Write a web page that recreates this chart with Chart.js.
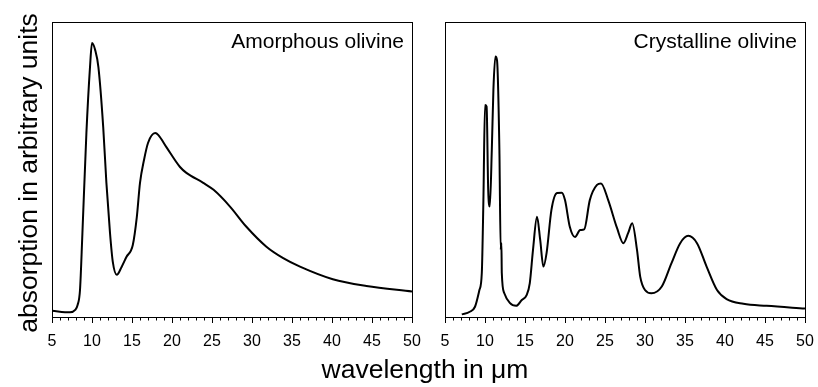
<!DOCTYPE html>
<html>
<head>
<meta charset="utf-8">
<script src="https://cdn.jsdelivr.net/npm/chart.js@4.4.1/dist/chart.umd.min.js"></script>
<style>
  body { margin: 0; background: #fff; }
  #wrap { position: relative; width: 818px; height: 387px; }
  canvas { position: absolute; left: 0; top: 0; }
</style>
</head>
<body>
<div id="wrap">
  <canvas id="amorph-canvas" width="818" height="387"></canvas>
  <canvas id="cryst-canvas" width="818" height="387"></canvas>
</div>
<script>
// ---- data (wavelength in micron, absorption in arbitrary units 0-100)
const amorphWl  = [5.0, 7.25, 7.9, 8.2, 8.5, 8.8, 9.3, 9.75, 10.0, 10.4, 10.8, 11.4, 11.8, 12.25, 12.6, 13.1, 13.7, 14.3, 15.1, 15.6, 16.0, 16.5, 17.0, 17.9, 18.3, 19.3, 21.0, 21.8, 23.9, 25.2, 27.25, 29.3, 31.8, 33.9, 36.0, 40.1, 44.3, 50.0];
const amorphAbs = [1.4, 0.9, 1.7, 3.4, 8.5, 27.8, 62.1, 84.6, 92.8, 90.4, 84.6, 64.2, 45.1, 28.0, 18.1, 13.7, 16.4, 19.8, 23.9, 33.4, 45.1, 52.9, 58.7, 62.1, 61.4, 57.3, 50.5, 48.5, 45.1, 42.7, 37.0, 30.1, 23.3, 19.4, 16.5, 12.2, 9.9, 8.0];

const crystWl  = [7.1, 8.1, 8.75, 9.3, 9.6, 9.8, 10.0, 10.2, 10.4, 10.6, 10.85, 11.05, 11.3, 11.5, 11.8, 11.96, 12.05, 12.1, 12.4, 13.1, 13.9, 14.6, 15.2, 15.6, 16.0, 16.5, 16.9, 17.3, 17.7, 18.3, 19.0, 19.6, 20.0, 20.6, 21.25, 21.9, 22.4, 23.1, 24.0, 24.5, 25.4, 26.5, 27.3, 27.9, 28.4, 29.0, 29.4, 30.0, 30.8, 32.1, 33.3, 34.4, 35.4, 36.5, 37.7, 39.0, 40.2, 42.3, 45.2, 50.0];
const crystAbs = [0.2, 1.1, 2.8, 8.5, 14.3, 39.2, 71.7, 71.1, 42.7, 37.0, 56.3, 76.8, 88.2, 87.0, 56.3, 22.2, 24.6, 14.3, 7.5, 4.1, 3.1, 5.1, 6.8, 10.9, 22.2, 33.5, 25.6, 16.5, 21.2, 35.8, 41.6, 41.7, 39.2, 30.1, 26.6, 29.0, 29.2, 39.2, 44.4, 44.9, 39.2, 29.7, 24.5, 28.0, 31.3, 22.2, 13.1, 8.5, 7.4, 9.7, 17.6, 24.5, 27.0, 24.5, 16.5, 8.5, 5.4, 3.8, 3.1, 2.2];

const panelTitles = ['Amorphous olivine', 'Crystalline olivine'];
const xTitle = 'wavelength in \u03bcm';
const yTitle = 'absorption in arbitrary units';
const xMin = 5, xMax = 50, xMajorStep = 5;

const FONT = '"Liberation Sans", Arial, Helvetica, sans-serif';

function toPoints(xs, ys) {
  return xs.map((x, i) => ({x: x, y: ys[i]}));
}

// frame box, minor ticks and the panel title
function panelPlugin(title, drawAxisTitles) {
  return {
    id: 'panelDecor',
    afterDraw(chart) {
      const ctx = chart.ctx;
      const a = chart.chartArea;
      const xs = chart.scales.x;
      ctx.save();
      ctx.strokeStyle = '#000';
      ctx.lineWidth = 1;
      ctx.strokeRect(Math.round(a.left) + 0.5, Math.round(a.top) + 0.5, Math.round(a.right - a.left), Math.round(a.bottom - a.top));
      // minor ticks every micron
      ctx.beginPath();
      for (let v = xMin; v <= xMax; v++) {
        if (v % xMajorStep === 0) continue;
        const px = Math.round(xs.getPixelForValue(v)) + 0.5;
        ctx.moveTo(px, a.bottom);
        ctx.lineTo(px, a.bottom + 3.5);
      }
      ctx.stroke();
      ctx.fillStyle = '#000';
      ctx.font = '21px ' + FONT;
      ctx.textAlign = 'right';
      ctx.textBaseline = 'alphabetic';
      ctx.fillText(title, a.right - 8, a.top + 26);
      if (drawAxisTitles) {
        ctx.font = '26.5px ' + FONT;
        ctx.textAlign = 'center';
        ctx.fillText(xTitle, 425, 378);
        ctx.translate(37, 173);
        ctx.rotate(-Math.PI / 2);
        ctx.fillText(yTitle, 0, 0);
      }
      ctx.restore();
    }
  };
}

function makePanel(canvasId, xs, ys, title, padLeft, padRight, drawAxisTitles) {
  const ctx = document.getElementById(canvasId).getContext('2d');
  return new Chart(ctx, {
    type: 'line',
    data: {
      datasets: [{
        data: toPoints(xs, ys),
        borderColor: '#000',
        borderWidth: 2,
        pointRadius: 0,
        fill: false,
        cubicInterpolationMode: 'monotone'
      }]
    },
    options: {
      responsive: false,
      animation: false,
      events: [],
      layout: { padding: { left: padLeft, right: padRight, top: 22, bottom: 0 } },
      plugins: { legend: { display: false }, tooltip: { enabled: false }, title: { display: false } },
      scales: {
        x: {
          type: 'linear',
          min: xMin,
          max: xMax,
          afterFit: (s) => { s.height = 70; s.paddingRight = 0; s.paddingLeft = 0; },
          border: { display: true, color: '#000', width: 1 },
          grid: { display: true, drawOnChartArea: false, drawTicks: true, tickLength: 6, color: '#000', tickColor: '#000' },
          ticks: {
            stepSize: xMajorStep,
            autoSkip: false,
            maxRotation: 0,
            padding: 9,
            color: '#000',
            font: { family: FONT, size: 16 }
          }
        },
        y: {
          display: false,
          min: -0.7,
          max: 100
        }
      }
    },
    plugins: [panelPlugin(title, drawAxisTitles)]
  });
}

makePanel('amorph-canvas', amorphWl, amorphAbs, panelTitles[0], 52, 818 - 412, true);
makePanel('cryst-canvas', crystWl, crystAbs, panelTitles[1], 445, 818 - 805, false);
</script>
</body>
</html>
